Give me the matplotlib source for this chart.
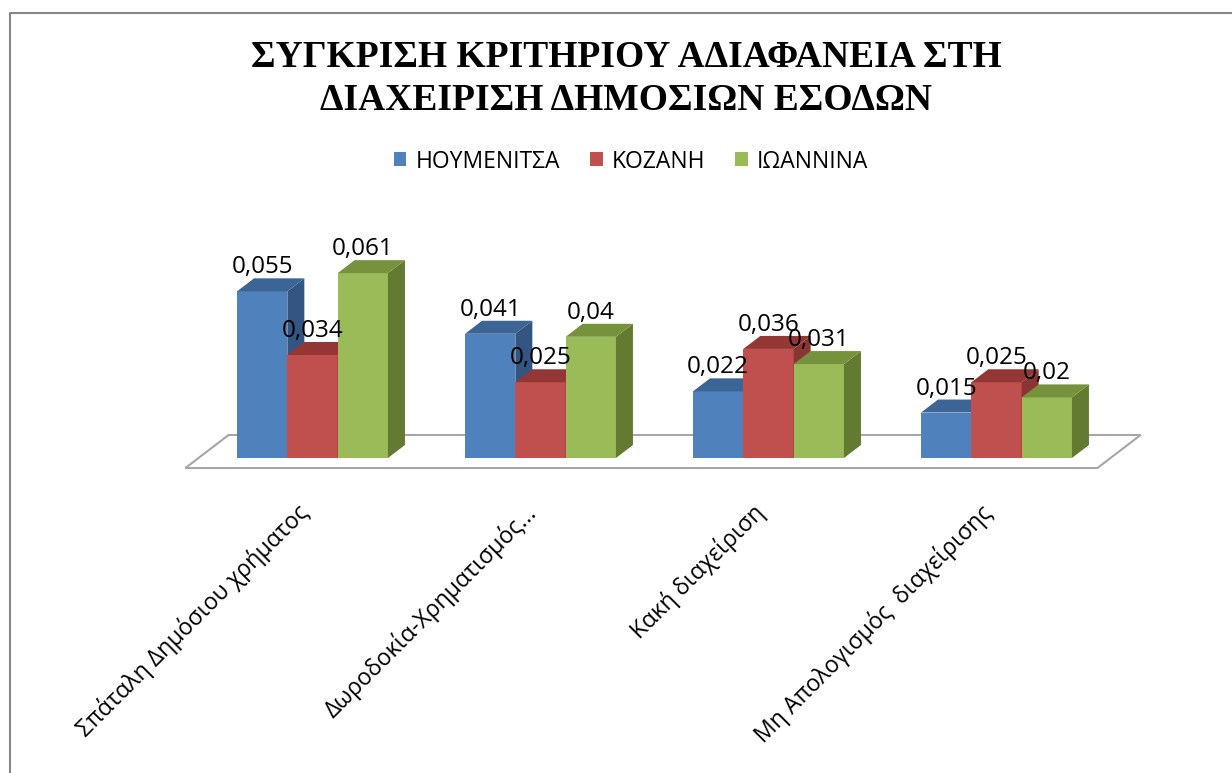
import matplotlib
matplotlib.use("Agg")
import matplotlib.pyplot as plt
from matplotlib.patches import Polygon, Patch
from matplotlib.lines import Line2D

# data
categories = ["Σπάταλη Δημόσιου χρήματος", "Δωροδοκία-Χρηματισμός...",
              "Κακή διαχείριση", "Μη Απολογισμός  διαχείρισης"]
series_names = ["ΗΟΥΜΕΝΙΤΣΑ", "ΚΟΖΑΝΗ", "ΙΩΑΝΝΙΝΑ"]
hoymenitsa = [0.055, 0.041, 0.022, 0.015]
kozani = [0.034, 0.025, 0.036, 0.025]
ioannina = [0.061, 0.04, 0.031, 0.02]
label_text = [["0,055", "0,041", "0,022", "0,015"],
              ["0,034", "0,025", "0,036", "0,025"],
              ["0,061", "0,04", "0,031", "0,02"]]

title_lines = ["ΣΥΓΚΡΙΣΗ ΚΡΙΤΗΡΙΟΥ ΑΔΙΑΦΑΝΕΙΑ ΣΤΗ", "ΔΙΑΧΕΙΡΙΣΗ ΔΗΜΟΣΙΩΝ ΕΣΟΔΩΝ"]

# colours: front, top, side
front_cols = ["#4F81BD", "#C0504D", "#9BBB59"]
top_cols = ["#3C6494", "#943634", "#76923C"]
side_cols = ["#335581", "#8A3533", "#637A31"]

W, H = 1232, 773
fig = plt.figure(figsize=(W / 100, H / 100), dpi=100)
fig.patch.set_facecolor("white")

# pixel layout of the plot area
x0_px, x_scale = 312.5, 228.0     # pixel x of first group, pixels per group
y0_px, y_scale = 458.0, 3030.0    # pixel y of value 0, pixels per unit

ax = fig.add_axes([0, 0, 1, 1])
ax.set_xlim(-x0_px / x_scale, (W - x0_px) / x_scale)
ax.set_ylim((y0_px - H) / y_scale, y0_px / y_scale)
ax.axis("off")

dx = 17 / x_scale      # depth offset of bars
dy = 13 / y_scale
bw = 50.3 / x_scale    # bar width

# floor
fd0, fd1 = -0.77, 1.77
floor = Polygon([(-0.5 + fd0 * dx, fd0 * dy), (3.5 + fd0 * dx, fd0 * dy),
                 (3.5 + fd1 * dx, fd1 * dy), (-0.5 + fd1 * dx, fd1 * dy)],
                closed=True, facecolor="white", edgecolor="#A6A6A6", lw=1.5, zorder=1)
ax.add_patch(floor)

all_series = [hoymenitsa, kozani, ioannina]
for g in range(len(categories)):
    for s, vals in enumerate(all_series):
        v = vals[g]
        left = g + (s - 1.5) * bw
        right = left + bw
        ax.bar(left, v, width=bw, align="edge", color=front_cols[s], zorder=2 + s)
        ax.add_patch(Polygon([(right, 0), (right + dx, dy), (right + dx, v + dy), (right, v)],
                             closed=True, facecolor=side_cols[s], edgecolor="none", zorder=2 + s))
        ax.add_patch(Polygon([(left, v), (left + dx, v + dy), (right + dx, v + dy), (right, v)],
                             closed=True, facecolor=top_cols[s], edgecolor="none", zorder=2 + s))
        ax.text(left + bw / 2, v + dy + 5 / y_scale, label_text[s][g],
                ha="center", va="baseline", fontsize=17.5, family="Open Sans", zorder=10)

# category labels
for g, cat in enumerate(categories):
    ax.text(g - 17 / x_scale, -42 / y_scale, cat, rotation=45, rotation_mode="anchor",
            ha="right", va="top", fontsize=16.7, family="Open Sans")

# title
fig.text(626 / W, 1 - 67 / H, title_lines[0], ha="center", va="baseline",
         fontsize=27, fontweight="bold", family="Liberation Serif")
fig.text(626 / W, 1 - 110 / H, title_lines[1], ha="center", va="baseline",
         fontsize=27, fontweight="bold", family="Liberation Serif")

# legend
handles = [Patch(facecolor=c, edgecolor="none") for c in front_cols]
fig.legend(handles, series_names, loc="center", bbox_to_anchor=(631 / W, 1 - 161.5 / H),
           ncol=3, frameon=False, prop={"family": "Open Sans", "size": 16.5},
           handlelength=0.55, handleheight=0.55, handletextpad=0.4, columnspacing=1.3)

# chart border (top and left only visible)
fig.add_artist(Line2D([9.5 / W, 9.5 / W, 1], [0, 1 - 12.5 / H, 1 - 12.5 / H],
                      transform=fig.transFigure, color="#868686", lw=1.5))

fig.savefig("out.png", dpi=100)
